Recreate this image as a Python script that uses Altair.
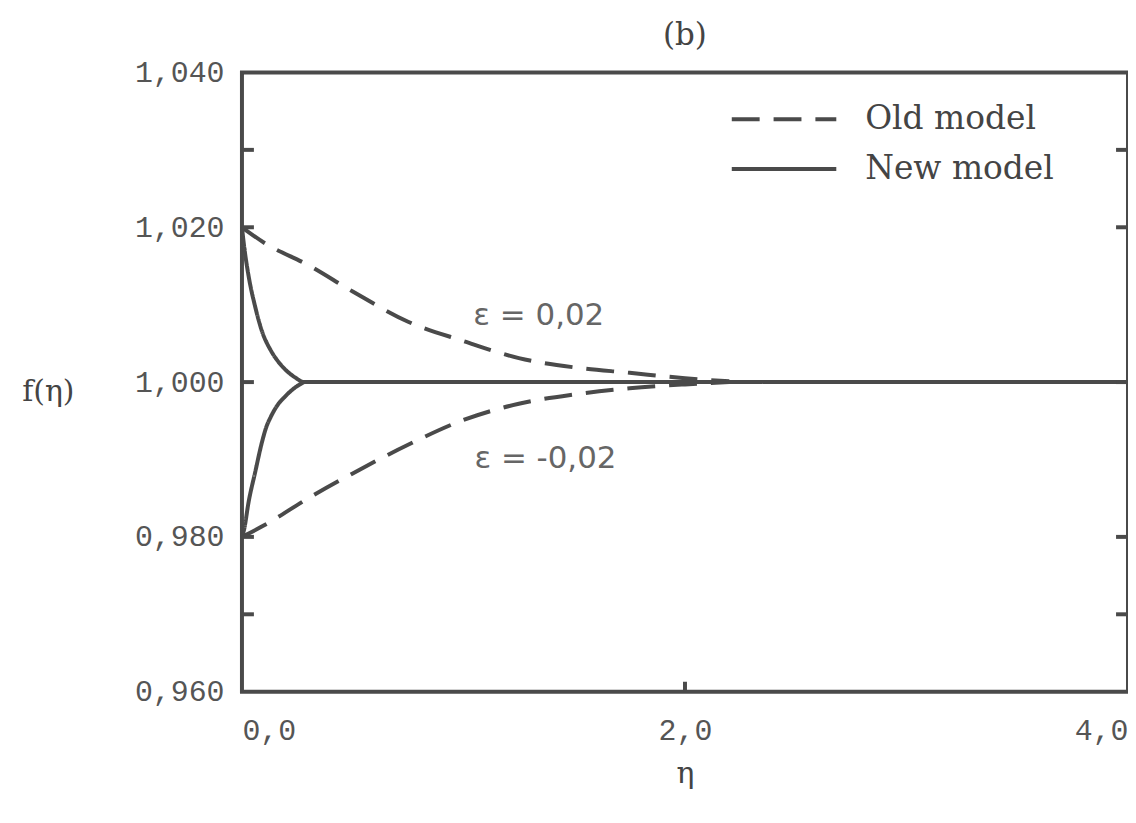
import altair as alt
import pandas as pd

# ---- data ----
eta_old = [0.0, 0.1, 0.3, 0.5, 0.75, 1.0, 1.25, 1.5, 1.75, 2.0, 2.2]
old_upper = [1.0200, 1.0180, 1.0151, 1.0117, 1.0078, 1.0053, 1.0031, 1.0019, 1.0012, 1.0005, 1.0001]
old_lower = [0.9800, 0.9815, 0.9850, 0.9882, 0.9919, 0.9951, 0.9972, 0.9984, 0.9992, 0.9997, 1.0000]

eta_new_upper = [0.0, 0.01, 0.03, 0.06, 0.09, 0.13, 0.165, 0.20, 0.24, 0.28, 4.0]
new_upper = [1.0200, 1.0175, 1.0137, 1.0097, 1.0066, 1.0041, 1.0026, 1.0015, 1.0006, 1.0000, 1.0000]
eta_new_lower = [0.0, 0.01, 0.03, 0.06, 0.09, 0.11, 0.13, 0.16, 0.19, 0.24, 0.28]
new_lower = [0.9800, 0.9810, 0.9845, 0.9884, 0.9922, 0.9942, 0.9955, 0.9970, 0.9980, 0.9993, 1.0000]

y_label_values = [0.96, 0.98, 1.00, 1.02, 1.04]
y_tick_values = [0.97, 0.98, 1.00, 1.02, 1.03]
x_label_values = [0.0, 2.0, 4.0]
x_tick_values = [2.0]

annot_eta = [1.34, 1.37]
annot_f = [1.0085, 0.9900]
annot_text = ["ε = 0,02", "ε = -0,02"]

models = ["Old model", "New model"]

# ---- build table ----
rows = []
for e, v in zip(eta_old, old_upper):
    rows.append({"eta": e, "f": v, "model": "Old model", "curve": "old+"})
for e, v in zip(eta_old, old_lower):
    rows.append({"eta": e, "f": v, "model": "Old model", "curve": "old-"})
for e, v in zip(eta_new_upper, new_upper):
    rows.append({"eta": e, "f": v, "model": "New model", "curve": "new+"})
for e, v in zip(eta_new_lower, new_lower):
    rows.append({"eta": e, "f": v, "model": "New model", "curve": "new-"})
df = pd.DataFrame(rows)

W, H = 890, 622
INK = "#4a4a4a"
TICK = 12

lines = alt.Chart(df).mark_line(strokeWidth=4, color=INK, interpolate="monotone").encode(
    x=alt.X("eta:Q",
            scale=alt.Scale(domain=[0, 4], nice=False, zero=False),
            axis=alt.Axis(values=x_label_values, domain=False, ticks=False, grid=False,
                          labelExpr="replace(format(datum.value, '.1f'), '.', ',')",
                          labelFont="Liberation Mono", labelFontSize=30, labelColor="#555",
                          labelPadding=24, labelFlush=True,
                          title="η", titleFont="DejaVu Serif", titleFontSize=30,
                          titleFontWeight="normal", titleColor="#444",
                          titleBaseline="middle", titleY=82)),
    y=alt.Y("f:Q",
            scale=alt.Scale(domain=[0.96, 1.04], nice=False, zero=False),
            axis=alt.Axis(values=y_label_values, domain=False, ticks=False, grid=False,
                          labelExpr="replace(format(datum.value, '.3f'), '.', ',')",
                          labelFont="Liberation Mono", labelFontSize=30, labelColor="#555",
                          labelPadding=18,
                          title="f(η)", titleFont="DejaVu Serif", titleFontSize=30,
                          titleFontWeight="normal", titleColor="#444", titleAngle=0,
                          titleAlign="center", titleBaseline="middle",
                          titleX=-195, titleY=320)),
    strokeDash=alt.StrokeDash("model:N",
                              scale=alt.Scale(domain=models, range=[[28, 14], [1, 0]]),
                              legend=alt.Legend(title=None, orient="none", legendX=490, legendY=23,
                                                padding=0, clipHeight=48, rowPadding=2,
                                                symbolType="stroke", symbolSize=11025,
                                                symbolStrokeWidth=4, symbolStrokeColor=INK,
                                                labelFont="DejaVu Serif", labelFontSize=33,
                                                labelLimit=400,
                                                labelColor="#444", labelOffset=27)),
    detail="curve:N",
)

left_ticks = alt.Chart(pd.DataFrame({"f": y_tick_values})).mark_rule(color=INK, strokeWidth=4).encode(
    y="f:Q", x=alt.value(0), x2=alt.value(TICK))
right_ticks = alt.Chart(pd.DataFrame({"f": y_tick_values})).mark_rule(color=INK, strokeWidth=4).encode(
    y="f:Q", x=alt.value(W - TICK), x2=alt.value(W))
bottom_ticks = alt.Chart(pd.DataFrame({"eta": x_tick_values})).mark_rule(color=INK, strokeWidth=4).encode(
    x="eta:Q", y=alt.value(H), y2=alt.value(H - 10))

annots = alt.Chart(pd.DataFrame({"eta": annot_eta, "f": annot_f, "label": annot_text})).mark_text(
    font="DejaVu Sans", fontSize=31, color="#666").encode(
    x="eta:Q", y="f:Q", text="label:N")

chart = alt.layer(lines, left_ticks, right_ticks, bottom_ticks, annots).properties(
    width=W, height=H,
    background="white",
    title=alt.TitleParams("(b)", font="DejaVu Serif", fontSize=31, fontWeight="normal",
                          color="#444", offset=6, anchor="middle"),
    autosize=alt.AutoSizeParams(type="none"),
    padding={"left": 235, "top": 63, "right": 0, "bottom": 100},
).configure_view(stroke=INK, strokeWidth=4)

chart.save("out.html", embed_options={"renderer": "svg", "actions": False})
